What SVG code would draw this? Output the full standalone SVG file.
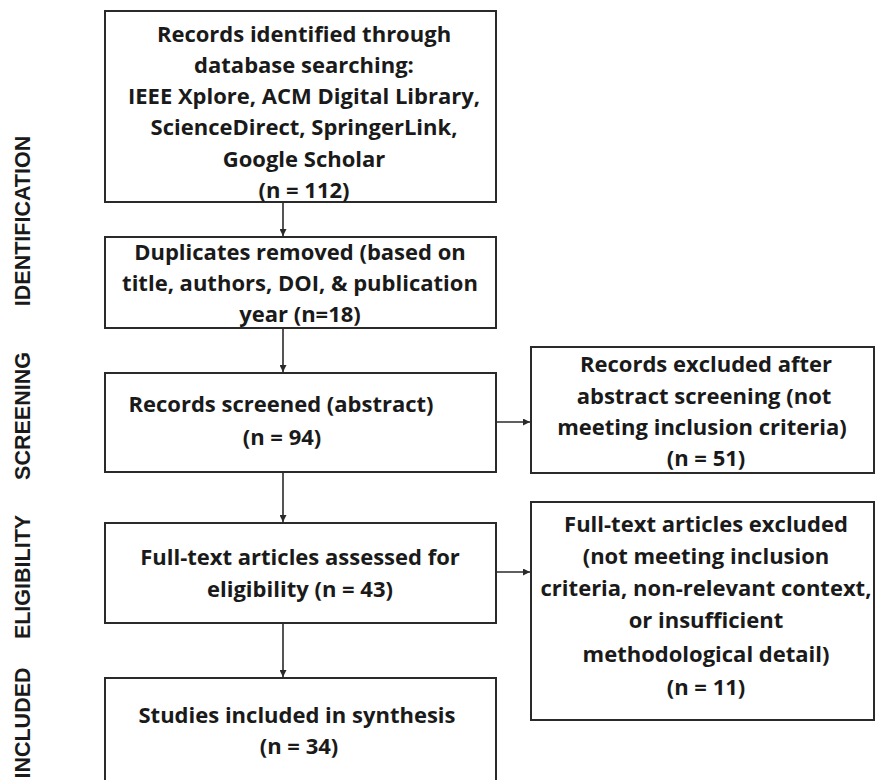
<svg xmlns="http://www.w3.org/2000/svg" width="875" height="780" viewBox="0 0 875 780">
  <style>
    .box { fill: #ffffff; stroke: #2a2a2a; stroke-width: 2; }
    .txt { font-family: "Open Sans", "Liberation Sans", sans-serif; font-weight: 700; font-size: 22px; fill: #1a1a1a; text-anchor: middle; }
    .phase { font-family: "Liberation Sans", Arial, sans-serif; font-weight: 700; font-size: 21.5px; fill: #1a1a1a; text-anchor: middle; }
    .link { stroke: #2a2a2a; stroke-width: 1.6; fill: none; marker-end: url(#arrow); }
  </style>
  <defs>
    <marker id="arrow" viewBox="0 0 10 10" refX="10" refY="5" markerWidth="7" markerHeight="7" markerUnits="userSpaceOnUse" orient="auto">
      <path d="M0,0 L10,5 L0,10 z" fill="#2a2a2a"/>
    </marker>
  </defs>
  <rect width="875" height="780" fill="#ffffff"/>

  <!-- phase labels, read bottom to top -->
  <g id="phases">
    <text class="phase" transform="translate(30,221) rotate(-90)">IDENTIFICATION</text>
    <text class="phase" transform="translate(30,416) rotate(-90)">SCREENING</text>
    <text class="phase" transform="translate(30,577) rotate(-90)">ELIGIBILITY</text>
    <text class="phase" transform="translate(30,723) rotate(-90)">INCLUDED</text>
  </g>

  <!-- connectors -->
  <g id="connectors">
    <line class="link" x1="283" y1="203" x2="283" y2="236"/>
    <line class="link" x1="283" y1="329" x2="283" y2="372"/>
    <line class="link" x1="283" y1="473" x2="283" y2="522"/>
    <line class="link" x1="283" y1="624" x2="283" y2="677"/>
    <line class="link" x1="497" y1="422" x2="530" y2="422"/>
    <line class="link" x1="497" y1="572" x2="530" y2="572"/>
  </g>

  <g id="identified">
    <rect class="box" x="105" y="11" width="391" height="191"/>
    <text class="txt" x="304" y="42">Records identified through</text>
    <text class="txt" x="304" y="73">database searching:</text>
    <text class="txt" x="304" y="104">IEEE Xplore, ACM Digital Library,</text>
    <text class="txt" x="304" y="135">ScienceDirect, SpringerLink,</text>
    <text class="txt" x="304" y="167">Google Scholar</text>
    <text class="txt" x="304" y="198">(n = 112)</text>
  </g>

  <g id="duplicates">
    <rect class="box" x="105" y="237" width="391" height="91"/>
    <text class="txt" x="300" y="260">Duplicates removed (based on</text>
    <text class="txt" x="300" y="291">title, authors, DOI, &amp; publication</text>
    <text class="txt" x="300" y="322">year (n=18)</text>
  </g>

  <g id="screened">
    <rect class="box" x="105" y="373" width="391" height="99"/>
    <text class="txt" x="281" y="412">Records screened (abstract)</text>
    <text class="txt" x="282" y="445">(n = 94)</text>
  </g>

  <g id="excluded-abstract">
    <rect class="box" x="531" y="347" width="343" height="126"/>
    <text class="txt" x="706" y="372">Records excluded after</text>
    <text class="txt" x="704" y="404">abstract screening (not</text>
    <text class="txt" x="702" y="435">meeting inclusion criteria)</text>
    <text class="txt" x="706" y="466">(n = 51)</text>
  </g>

  <g id="assessed">
    <rect class="box" x="105" y="523" width="391" height="100"/>
    <text class="txt" x="300" y="565">Full-text articles assessed for</text>
    <text class="txt" x="300" y="597">eligibility (n = 43)</text>
  </g>

  <g id="excluded-fulltext">
    <rect class="box" x="531" y="502" width="343" height="218"/>
    <text class="txt" x="706" y="532">Full-text articles excluded</text>
    <text class="txt" x="706" y="564">(not meeting inclusion</text>
    <text class="txt" x="706" y="596">criteria, non-relevant context,</text>
    <text class="txt" x="706" y="628">or insufficient</text>
    <text class="txt" x="706" y="662">methodological detail)</text>
    <text class="txt" x="706" y="695">(n = 11)</text>
  </g>

  <g id="included">
    <rect class="box" x="105" y="678" width="391" height="110"/>
    <text class="txt" x="297" y="723">Studies included in synthesis</text>
    <text class="txt" x="299" y="754">(n = 34)</text>
  </g>
</svg>
